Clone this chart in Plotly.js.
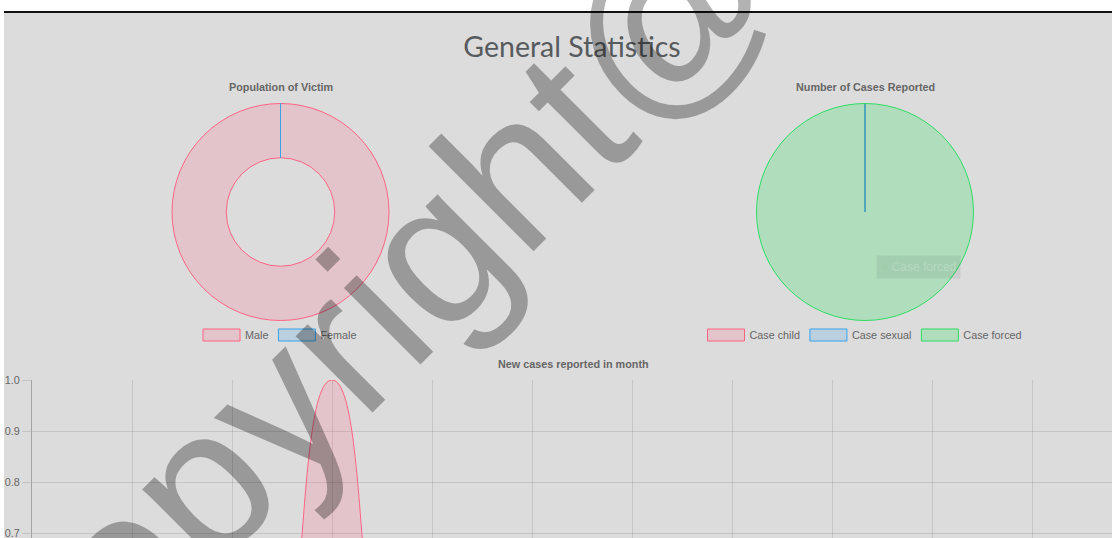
<!DOCTYPE html>
<html><head><meta charset="utf-8">
<script src="https://cdn.plot.ly/plotly-3.0.1.min.js"></script>
<style>
html,body{margin:0;padding:0;background:#fff;overflow:hidden;width:1112px;height:538px;}
#bg{position:absolute;left:4px;top:13px;width:1108px;height:1000px;background:#dcdcdc;}
#bar{position:absolute;left:4px;top:11px;width:1108px;height:2px;background:#111;}
#chart{position:absolute;left:0;top:0;width:1112px;height:950px;}
</style></head><body>
<div id="bg"></div><div id="bar"></div><div id="chart"></div>
<script>
// ---- data ----
const genderLabels = ['Male', 'Female'];
const genderValues = [1, 0];
const caseLabels = ['Case child', 'Case sexual', 'Case forced'];
const caseValues = [0, 0, 1];
const months = ['January','February','March','April','May','June','July','August','September','October','November','December'];
const newCases = [0, 0, 0, 1, 0, 0, 0, 0, 0, 0, 0, 0];

// ---- helpers ----
const W = 1112, H = 950;
const fx = px => px / W;
const fy = py => 1 - py / H;
const FONT = 'Liberation Sans, Arial, Helvetica, sans-serif';
const PINK = 'rgb(255,99,132)', PINKA = 'rgba(255,99,132,0.2)';
const BLUE = 'rgb(54,162,235)', BLUEA = 'rgba(54,162,235,0.2)';
const GREEN = 'rgb(46,220,100)', GREENA = 'rgba(0,230,64,0.2)';

const traces = [
  {
    type: 'pie', labels: genderLabels, values: genderValues, hole: 0.5,
    sort: false, direction: 'clockwise', rotation: 0, textinfo: 'none',
    domain: {x: [fx(172), fx(389)], y: [fy(320.5), fy(103.5)]},
    marker: {colors: [PINKA, BLUEA], line: {color: [PINK, BLUE], width: 1}},
    legend: 'legend', hoverinfo: 'label+value'
  },
  {
    type: 'pie', labels: caseLabels, values: caseValues,
    sort: false, direction: 'clockwise', rotation: 0, textinfo: 'none',
    domain: {x: [fx(756.5), fx(973.5)], y: [fy(320.5), fy(103.5)]},
    marker: {colors: [PINKA, BLUEA, GREENA], line: {color: [PINK, BLUE, GREEN], width: 1}},
    legend: 'legend2', hoverinfo: 'label+value'
  },
  {
    type: 'scatter', mode: 'lines', x: months, y: newCases,
    line: {color: PINK, width: 1, shape: 'spline', smoothing: 1.3},
    fill: 'tozeroy', fillcolor: PINKA, showlegend: false, cliponaxis: false
  }
];

const legendBase = {
  orientation: 'h', xanchor: 'center', yanchor: 'middle', y: fy(335), itemwidth: 37,
  font: {family: FONT, size: 10.8, color: '#666'}, bgcolor: 'rgba(0,0,0,0)'
};

const ann = (text, px, py, font, extra) => Object.assign({
  text: text, x: fx(px), y: fy(py), xref: 'paper', yref: 'paper', showarrow: false,
  xanchor: 'center', yanchor: 'middle', font: font
}, extra || {});
const boldFont = {family: FONT, size: 10.8, color: '#666', weight: 'bold'};

const layout = {
  width: W, height: H, margin: {l: 0, r: 0, t: 0, b: 0},
  paper_bgcolor: 'rgba(0,0,0,0)', plot_bgcolor: 'rgba(0,0,0,0)',
  showlegend: true,
  title: {text: 'General Statistics', x: fx(572), y: fy(47), xanchor: 'center', yanchor: 'middle',
          font: {family: 'Lato, Open Sans, sans-serif', size: 28.5, color: '#575b5e'}},
  xaxis: {
    domain: [fx(32), 1], type: 'category', range: [0, 10.8],
    showgrid: true, gridcolor: 'rgba(0,0,0,0.1)', zeroline: false, showline: false,
    ticks: 'outside', ticklen: 9, tickcolor: 'rgba(0,0,0,0.1)',
    tickfont: {family: FONT, size: 10.8, color: '#666'}, fixedrange: true
  },
  yaxis: {
    domain: [fy(890), fy(380)], range: [0, 1], dtick: 0.1, tickformat: '.1f',
    showgrid: true, gridcolor: 'rgba(0,0,0,0.1)', zeroline: false,
    showline: true, linecolor: 'rgba(0,0,0,0.25)', linewidth: 1,
    ticks: 'outside', ticklen: 9, tickcolor: 'rgba(0,0,0,0.1)',
    tickfont: {family: FONT, size: 10.8, color: '#666'}, fixedrange: true
  },
  legend: Object.assign({}, legendBase, {x: fx(280)}),
  legend2: Object.assign({}, legendBase, {x: fx(865)}),
  annotations: [
    ann('Population of Victim', 281, 87, boldFont),
    ann('Number of Cases Reported', 865, 87, boldFont),
    ann('New cases reported in month', 573, 364, boldFont),
    ann('<span style="color:rgba(150,200,160,0.6)">■</span> Case forced', 918, 267,
        {family: FONT, size: 12, color: 'rgba(255,255,255,0.22)'},
        {bgcolor: 'rgba(0,0,0,0.07)', borderpad: 4}),
    ann('copyright@', 373, 310, {family: FONT, size: 205, color: 'rgba(0,0,0,0.3)'}, {textangle: -45})
  ]
};

Plotly.newPlot('chart', traces, layout, {displayModeBar: false, staticPlot: true}).then(function () {
  // Chart.js-style wide legend boxes (both legends)
  document.querySelectorAll('g.legendpoints path').forEach(function (p) {
    p.setAttribute('d', 'M-18.5,6H18.5V-6H-18.5Z');
  });
});
</script>
</body></html>
